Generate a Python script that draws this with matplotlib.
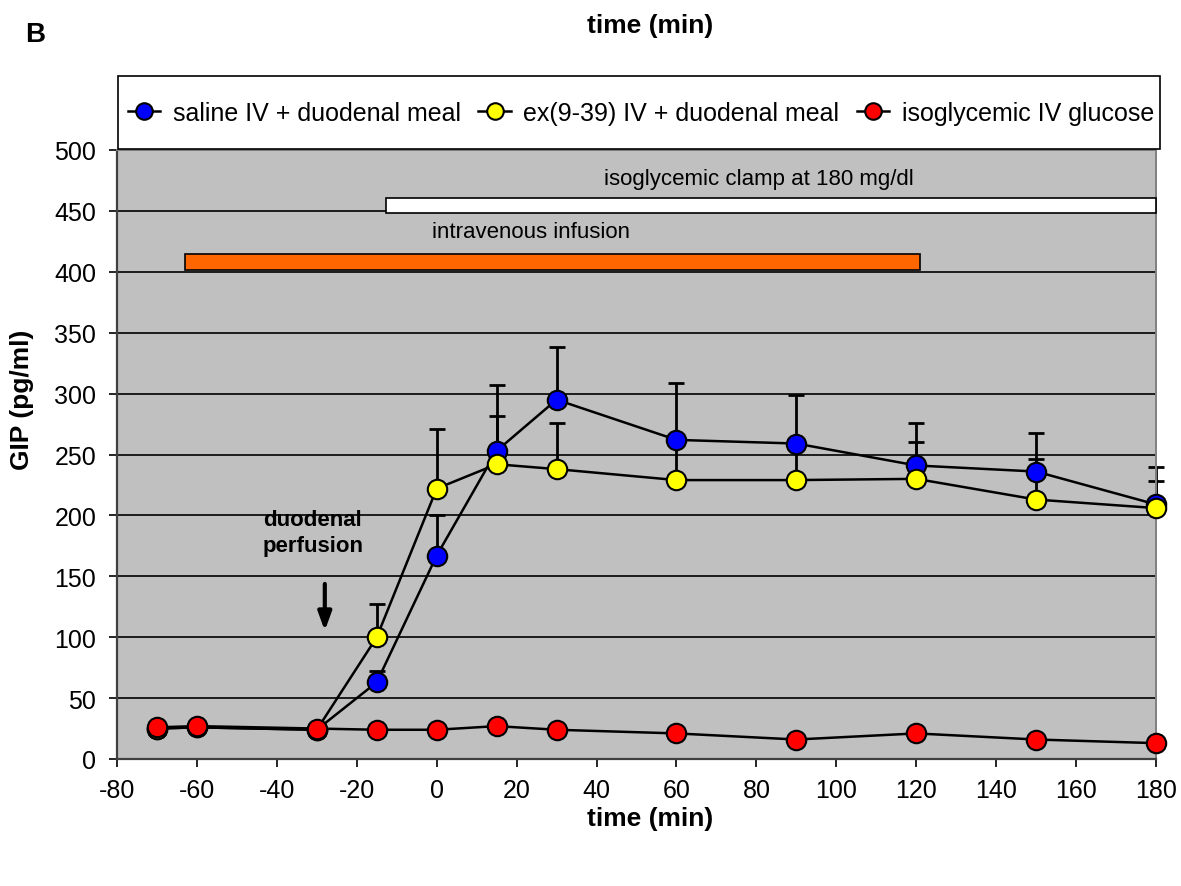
import numpy as np
import matplotlib
matplotlib.use("Agg")
from matplotlib import pyplot as plt
from matplotlib.patches import Rectangle

plt.rcParams['font.family'] = ['Liberation Sans', 'DejaVu Sans']
plt.rcParams['axes.unicode_minus'] = False

# time points (min)
t = [-70, -60, -30, -15, 0, 15, 30, 60, 90, 120, 150, 180]

# GIP (pg/ml), means and upper SEM
saline = [25, 26, 24, 63, 167, 253, 295, 262, 259, 241, 236, 209]
saline_err = [2, 2, 2, 9, 33, 54, 43, 47, 40, 35, 32, 31]
exendin = [25, 26, 24, 100, 222, 242, 238, 229, 229, 230, 213, 206]
exendin_err = [2, 2, 2, 27, 49, 40, 38, 30, 28, 30, 33, 22]
glucose = [26, 27, 25, 24, 24, 27, 24, 21, 16, 21, 16, 13]
glucose_err = [2, 2, 2, 2, 2, 2, 2, 2, 2, 2, 2, 2]

series = [
    ('saline IV + duodenal meal', saline, saline_err, '#0000FF'),
    ('ex(9-39) IV + duodenal meal', exendin, exendin_err, '#FFFF00'),
    ('isoglycemic IV glucose', glucose, glucose_err, '#FF0000'),
]

# protocol bars: (start, end, bottom, top)
clamp_bar = (-12.8, 180, 448, 461)
infusion_bar = (-63, 121, 401.5, 414.5)

fig = plt.figure(figsize=(11.81, 8.87), dpi=100)
ax = fig.add_axes([117 / 1181, 1 - 760 / 887, (1156 - 117) / 1181, (760 - 151) / 887])
ax.set_facecolor('#C0C0C0')

for y in range(50, 501, 50):
    ax.axhline(y, color='black', lw=1.2, zorder=1)

handles = []
for name, vals, err, col in series:
    ax.errorbar(t, vals, yerr=[np.zeros(len(err)), err], fmt='none', ecolor='black',
                elinewidth=2, capsize=6, capthick=2, zorder=2, clip_on=False)
    h, = ax.plot(t, vals, '-', color='black', lw=1.8, marker='o', markersize=14,
                 markerfacecolor=col, markeredgecolor='black', markeredgewidth=1.5,
                 zorder=3, clip_on=False, label=name)
    handles.append(h)

for (x0, x1, y0, y1), fc in [(clamp_bar, 'white'), (infusion_bar, '#FF6600')]:
    ax.add_patch(Rectangle((x0, y0), x1 - x0, y1 - y0, facecolor=fc,
                           edgecolor='black', lw=1.2, zorder=4, clip_on=False))

ax.text(80.5, 477, 'isoglycemic clamp at 180 mg/dl', fontsize=16, ha='center', va='center')
ax.text(23.5, 433, 'intravenous infusion', fontsize=16, ha='center', va='center')

ax.text(-31, 186, 'duodenal\nperfusion', fontsize=16, fontweight='bold',
        ha='center', va='center', linespacing=1.35)
ax.annotate('', xy=(-28, 103), xytext=(-28, 146),
            arrowprops=dict(arrowstyle='-|>,head_width=0.4,head_length=1.1',
                            color='black', lw=3))

ax.set_xlim(-80, 180)
ax.set_ylim(0, 500)
ax.set_xticks(range(-80, 181, 20))
ax.set_yticks(range(0, 501, 50))
ax.tick_params(axis='both', labelsize=18, direction='out', length=6, width=1.2, colors='black')
ax.tick_params(axis='x', pad=8)
ax.tick_params(axis='y', pad=9)

for side in ['left', 'bottom']:
    ax.spines[side].set_color('#404040')
    ax.spines[side].set_linewidth(1.6)
for side in ['right', 'top']:
    ax.spines[side].set_color('#808080')
    ax.spines[side].set_linewidth(1.4)

fig.text(22 / 1181, 1 - 400 / 887, 'GIP (pg/ml)', rotation=90, fontsize=19,
         fontweight='bold', ha='center', va='center')
fig.text(650 / 1181, 1 - 819 / 887, 'time (min)', fontsize=19, fontweight='bold',
         ha='center', va='center')
fig.text(650 / 1181, 1 - 26 / 887, 'time (min)', fontsize=19, fontweight='bold',
         ha='center', va='center')
fig.text(35 / 1181, 1 - 35 / 887, 'B', fontsize=20, fontweight='bold',
         ha='center', va='center')

# legend box above plot
fig.patches.append(Rectangle((118 / 1181, 1 - 150 / 887), (1160 - 118) / 1181, 73 / 887,
                             transform=fig.transFigure, facecolor='white',
                             edgecolor='black', lw=1.2, zorder=0))
fig.legend(handles=handles, loc='center', bbox_to_anchor=(641 / 1181, 1 - 114 / 887),
           ncol=3, frameon=False, fontsize=18, handlelength=1.3, handletextpad=0.5,
           columnspacing=0.7, borderaxespad=0, markerscale=0.85)

fig.savefig('out.png', dpi=100)
